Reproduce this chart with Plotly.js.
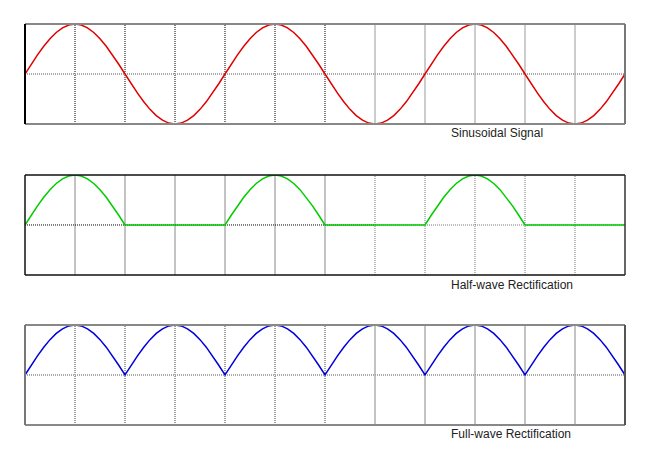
<!DOCTYPE html>
<html>
<head>
<meta charset="utf-8">
<script src="https://cdn.plot.ly/plotly-3.0.1.min.js"></script>
<style>html,body{margin:0;padding:0;background:#fff;}#chart{width:650px;height:450px;}</style>
</head>
<body>
<div id="chart"></div>
<script>
// sample spacing along x (units of grid divisions)
const xStart = 0;
const xStep = 0.125;

// values (one sample every 1/8 grid division)
const sinusoidal = [
 0,0.195,0.383,0.556,0.707,0.831,0.924,0.981,1,0.981,0.924,0.831,0.707,0.556,0.383,0.195,
 0,-0.195,-0.383,-0.556,-0.707,-0.831,-0.924,-0.981,-1,-0.981,-0.924,-0.831,-0.707,-0.556,-0.383,-0.195,
 0,0.195,0.383,0.556,0.707,0.831,0.924,0.981,1,0.981,0.924,0.831,0.707,0.556,0.383,0.195,
 0,-0.195,-0.383,-0.556,-0.707,-0.831,-0.924,-0.981,-1,-0.981,-0.924,-0.831,-0.707,-0.556,-0.383,-0.195,
 0,0.195,0.383,0.556,0.707,0.831,0.924,0.981,1,0.981,0.924,0.831,0.707,0.556,0.383,0.195,
 0,-0.195,-0.383,-0.556,-0.707,-0.831,-0.924,-0.981,-1,-0.981,-0.924,-0.831,-0.707,-0.556,-0.383,-0.195,
 0
];
const halfWave = [
 0,0.195,0.383,0.556,0.707,0.831,0.924,0.981,1,0.981,0.924,0.831,0.707,0.556,0.383,0.195,
 0,0,0,0,0,0,0,0,0,0,0,0,0,0,0,0,
 0,0.195,0.383,0.556,0.707,0.831,0.924,0.981,1,0.981,0.924,0.831,0.707,0.556,0.383,0.195,
 0,0,0,0,0,0,0,0,0,0,0,0,0,0,0,0,
 0,0.195,0.383,0.556,0.707,0.831,0.924,0.981,1,0.981,0.924,0.831,0.707,0.556,0.383,0.195,
 0,0,0,0,0,0,0,0,0,0,0,0,0,0,0,0,
 0
];
const fullWave = [
 0,0.195,0.383,0.556,0.707,0.831,0.924,0.981,1,0.981,0.924,0.831,0.707,0.556,0.383,0.195,
 0,0.195,0.383,0.556,0.707,0.831,0.924,0.981,1,0.981,0.924,0.831,0.707,0.556,0.383,0.195,
 0,0.195,0.383,0.556,0.707,0.831,0.924,0.981,1,0.981,0.924,0.831,0.707,0.556,0.383,0.195,
 0,0.195,0.383,0.556,0.707,0.831,0.924,0.981,1,0.981,0.924,0.831,0.707,0.556,0.383,0.195,
 0,0.195,0.383,0.556,0.707,0.831,0.924,0.981,1,0.981,0.924,0.831,0.707,0.556,0.383,0.195,
 0,0.195,0.383,0.556,0.707,0.831,0.924,0.981,1,0.981,0.924,0.831,0.707,0.556,0.383,0.195,
 0
];

// grid positions
const gridLeft = [1, 2, 3, 4, 5, 6];
const gridRight = [7, 8, 9, 10, 11];
const xRange = [0, 12];
const yRange = [-1, 1];
const panelLabels = ["Sinusoidal Signal", "Half-wave Rectification", "Full-wave Rectification"];

const DOT = "1px,1px";
const traces = [
  {x0: xStart, dx: xStep, y: sinusoidal, type: "scatter", mode: "lines", xaxis: "x", yaxis: "y",
   line: {color: "#e00000", width: 1.5}, hoverinfo: "skip"},
  {x0: xStart, dx: xStep, y: halfWave, type: "scatter", mode: "lines", xaxis: "x2", yaxis: "y2",
   line: {color: "#00cc00", width: 1.5}, hoverinfo: "skip"},
  {x0: xStart, dx: xStep, y: fullWave, type: "scatter", mode: "lines", xaxis: "x3", yaxis: "y3",
   line: {color: "#0000dd", width: 1.5}, hoverinfo: "skip"}
];

const shapes = [];
function vline(ax, x, color, dash, width) {
  shapes.push({type: "line", layer: "below", xref: "x" + ax, yref: "y" + ax,
    x0: x, x1: x, y0: yRange[0], y1: yRange[1], line: {color: color, width: width, dash: dash}});
}
function hline(ax, xa, xb, color, dash, width) {
  shapes.push({type: "line", layer: "below", xref: "x" + ax, yref: "y" + ax,
    x0: xa, x1: xb, y0: 0, y1: 0, line: {color: color, width: width, dash: dash}});
}
function border(ax, tbColor, leftColor, rightColor, width) {
  const xr = "x" + ax + " domain", yr = "y" + ax + " domain";
  shapes.push({type: "line", layer: "above", xref: xr, yref: yr, x0: 0, x1: 1, y0: 1, y1: 1, line: {color: tbColor, width: width}});
  shapes.push({type: "line", layer: "above", xref: xr, yref: yr, x0: 0, x1: 1, y0: 0, y1: 0, line: {color: tbColor, width: width}});
  shapes.push({type: "line", layer: "above", xref: xr, yref: yr, x0: 0, x1: 0, y0: 0, y1: 1, line: {color: leftColor, width: width}});
  shapes.push({type: "line", layer: "above", xref: xr, yref: yr, x0: 1, x1: 1, y0: 0, y1: 1, line: {color: rightColor, width: width}});
}

// panel 1
gridLeft.forEach(x => vline("", x, "#000000", DOT, 1));
gridRight.forEach(x => vline("", x, "#999999", "solid", 1));
hline("", xRange[0], xRange[1], "#aaaaaa", DOT, 2);
border("", "#888888", "#000000", "#777777", 2);
// panel 2
gridLeft.forEach(x => vline("2", x, "#888888", "solid", 1));
gridRight.forEach(x => vline("2", x, "#777777", DOT, 1));
hline("2", xRange[0], 7, "#000000", DOT, 1);
hline("2", 7, xRange[1], "#777777", DOT, 1);
border("2", "#111111", "#111111", "#333333", 1.5);
// panel 3
gridLeft.forEach(x => vline("3", x, "#444444", DOT, 1));
gridRight.forEach(x => vline("3", x, "#888888", "solid", 1));
hline("3", xRange[0], xRange[1], "#aaaaaa", DOT, 2);
border("3", "#888888", "#777777", "#555555", 2);

function xax(anchor) {
  return {range: xRange, anchor: anchor, showgrid: false, zeroline: false, showticklabels: false,
          ticks: "", showline: false, fixedrange: true};
}
function yax(anchor, domain) {
  return {range: yRange, anchor: anchor, domain: domain, showgrid: false, zeroline: false,
          showticklabels: false, ticks: "", showline: false, fixedrange: true};
}

const labelY = [0.728, 0.349, -0.0224];
const annotations = panelLabels.map((t, i) => ({
  text: t, xref: "paper", yref: "paper", x: 0.7067, y: labelY[i], xanchor: "left", yanchor: "middle",
  showarrow: false, font: {family: "Liberation Sans, Arial, sans-serif", size: 12, color: "#222222"}
}));

const layout = {
  width: 650, height: 450,
  margin: {l: 25, r: 25, t: 24, b: 25, pad: 0},
  paper_bgcolor: "#ffffff", plot_bgcolor: "#ffffff",
  showlegend: false,
  xaxis: xax("y"), yaxis: yax("x", [0.7506, 1]),
  xaxis2: xax("y2"), yaxis2: yax("x2", [0.3741, 0.6234]),
  xaxis3: xax("y3"), yaxis3: yax("x3", [0, 0.2494]),
  shapes: shapes,
  annotations: annotations
};

Plotly.newPlot("chart", traces, layout, {displayModeBar: false, staticPlot: true});
</script>
</body>
</html>
